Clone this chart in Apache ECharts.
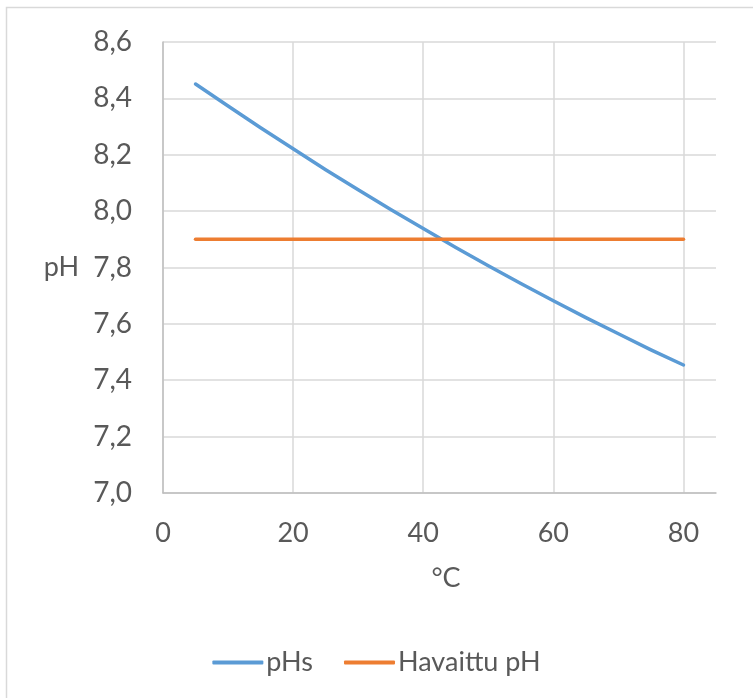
<!DOCTYPE html>
<html>
<head>
<meta charset="utf-8">
<script src="https://cdn.jsdelivr.net/npm/echarts@6/dist/echarts.min.js"></script>
<style>
  html, body { margin: 0; padding: 0; background: #fff; }
  #chart { width: 753px; height: 698px; }
</style>
</head>
<body>
<div id="chart"></div>
<script>
// Temperature (°C) and saturation pH
const temperatures = [5, 10, 15, 20, 25, 30, 35, 40, 45, 50, 55, 60, 65, 70, 75, 80];
const pHsValues = [8.451, 8.373, 8.296, 8.221, 8.147, 8.076, 8.006, 7.938, 7.871, 7.806, 7.743, 7.682, 7.622, 7.565, 7.508, 7.454];

// Observed pH over the same temperature range
const observedTemps = [5, 80];
const observedValues = [7.9, 7.9];

const seriesNames = ['pHs', 'Havaittu pH'];
const xTicks = [0, 20, 40, 60, 80];
const yTicks = [7.0, 7.2, 7.4, 7.6, 7.8, 8.0, 8.2, 8.4, 8.6];

const textColor = '#595959';
const fontFamily = 'Lato, "Liberation Sans", sans-serif';
const fontSize = 27;

const chart = echarts.init(document.getElementById('chart'));

chart.setOption({
  animation: false,
  backgroundColor: '#ffffff',
  graphic: [{
    type: 'rect',
    shape: { x: 6.5, y: 7.5, width: 900, height: 900 },
    style: { fill: 'none', stroke: '#D9D9D9', lineWidth: 1.5 },
    silent: true
  }],
  grid: { left: 163, right: 37, top: 42, bottom: 205 },
  legend: {
    data: seriesNames,
    bottom: 17,
    left: 'center',
    icon: 'roundRect',
    itemWidth: 51,
    itemHeight: 4,
    itemGap: 31,
    textStyle: { color: textColor, fontFamily: fontFamily, fontSize: fontSize, padding: [0, 0, 0, -2] }
  },
  xAxis: {
    type: 'value',
    min: 0,
    max: 85,
    interval: 20,
    name: '°C',
    nameLocation: 'middle',
    nameGap: 72,
    nameTextStyle: { color: textColor, fontFamily: fontFamily, fontSize: fontSize, padding: [0, 0, 0, 13] },
    axisLine: { show: true, lineStyle: { color: '#BFBFBF', width: 1.5 } },
    axisTick: { show: false },
    axisLabel: {
      color: textColor, fontFamily: fontFamily, fontSize: fontSize, margin: 27,
      showMaxLabel: false,
      formatter: v => xTicks.includes(v) ? String(v) : ''
    },
    splitLine: { show: true, showMaxLine: false, lineStyle: { color: '#D9D9D9', width: 1.5 } }
  },
  yAxis: {
    type: 'value',
    min: 7.0,
    max: 8.6,
    interval: 0.2,
    name: 'pH',
    nameLocation: 'middle',
    nameRotate: 0,
    nameGap: 84,
    nameTextStyle: { color: textColor, fontFamily: fontFamily, fontSize: fontSize },
    axisLine: { show: true, lineStyle: { color: '#BFBFBF', width: 1.5 } },
    axisTick: { show: false },
    axisLabel: {
      color: textColor, fontFamily: fontFamily, fontSize: 28, margin: 31,
      formatter: v => {
        const t = yTicks.find(k => Math.abs(k - v) < 1e-6);
        return t === undefined ? '' : t.toFixed(1).replace('.', ',');
      }
    },
    splitLine: { show: true, lineStyle: { color: '#D9D9D9', width: 1.5 } }
  },
  series: [
    {
      name: seriesNames[0],
      type: 'line',
      data: temperatures.map((t, i) => [t, pHsValues[i]]),
      symbol: 'none',
      lineStyle: { color: '#5B9BD5', width: 3.5, cap: 'round', join: 'round' },
      itemStyle: { color: '#5B9BD5' }
    },
    {
      name: seriesNames[1],
      type: 'line',
      data: observedTemps.map((t, i) => [t, observedValues[i]]),
      symbol: 'none',
      lineStyle: { color: '#ED7D31', width: 3.5, cap: 'round' },
      itemStyle: { color: '#ED7D31' }
    }
  ]
});
</script>
</body>
</html>
